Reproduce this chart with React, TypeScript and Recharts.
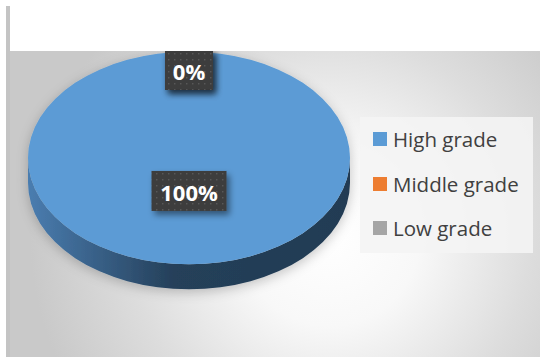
import React from 'react';
import { PieChart, Pie, Cell, Legend } from 'recharts';

const grades = ['High grade', 'Middle grade', 'Low grade'];
const shares = [100, 0, 0];
const gradeColors = ['#5b9bd5', '#ed7d31', '#a5a5a5'];

const data = grades.map((name, i) => ({ name, value: shares[i] }));

const TILT = 0.66; // vertical squash of the pie top
const DEPTH = 25; // thickness of the 3d side
const RAD = Math.PI / 180;
const FONT = '"Open Sans", "Noto Sans", sans-serif';

const pt = (cx: number, cy: number, rx: number, ry: number, deg: number) => [
  cx + rx * Math.cos(-deg * RAD),
  cy + ry * Math.sin(-deg * RAD),
];

// draws a slice as a tilted 3d ellipse sector
const Slice3D = (props: any) => {
  const { cx, cy, outerRadius, startAngle, endAngle, fill } = props;
  const rx = outerRadius;
  const ry = outerRadius * TILT;
  const hi = Math.max(startAngle, endAngle);
  const lo = Math.min(startAngle, endAngle);
  if (hi - lo < 0.01) return null;

  // front side bands: parts of the slice lying in the lower half
  const bands: string[] = [];
  for (let k = -2; k <= 1; k++) {
    const a = Math.max(lo, -180 + 360 * k);
    const b = Math.min(hi, 360 * k);
    if (b - a > 0.01) {
      const [ax, ay] = pt(cx, cy, rx, ry, a);
      const [bx, by] = pt(cx, cy, rx, ry, b);
      bands.push(
        `M${ax},${ay} A${rx},${ry} 0 0 0 ${bx},${by} L${bx},${by + DEPTH} A${rx},${ry} 0 0 1 ${ax},${ay + DEPTH} Z`
      );
    }
  }

  let top: React.ReactNode;
  if (hi - lo >= 359.99) {
    top = <ellipse cx={cx} cy={cy} rx={rx} ry={ry} fill={fill} />;
  } else {
    const [sx, sy] = pt(cx, cy, rx, ry, startAngle);
    const [ex, ey] = pt(cx, cy, rx, ry, endAngle);
    const large = hi - lo > 180 ? 1 : 0;
    const sweep = startAngle > endAngle ? 1 : 0;
    top = <path d={`M${cx},${cy} L${sx},${sy} A${rx},${ry} 0 ${large} ${sweep} ${ex},${ey} Z`} fill={fill} />;
  }

  return (
    <g filter="url(#pieShadow)">
      {bands.map((d, i) => (
        <path key={i} d={d} fill="url(#sideGrad)" />
      ))}
      {top}
    </g>
  );
};

const renderLabel = (p: any) => {
  const { cx, cy, midAngle, outerRadius, percent } = p;
  const k = percent > 0.5 ? 0.31 : 0.83;
  const x = cx + outerRadius * k * Math.cos(-midAngle * RAD);
  const y = cy + outerRadius * TILT * k * Math.sin(-midAngle * RAD);
  const text = `${Math.round(percent * 100)}%`;
  const w = text.length * 13.5 + 21;
  const h = 40;
  return (
    <g>
      <rect x={x - w / 2} y={y - h / 2} width={w} height={h} fill="url(#dots)" filter="url(#boxShadow)" />
      <text
        x={x}
        y={y + 1}
        textAnchor="middle"
        dominantBaseline="central"
        fill="#ffffff"
        fontFamily={FONT}
        fontWeight={700}
        fontSize={22}
      >
        {text}
      </text>
    </g>
  );
};

const renderLegend = (props: any) => {
  const items = [...(props.payload ?? [])].sort(
    (a: any, b: any) => grades.indexOf(a.value) - grades.indexOf(b.value)
  );
  return (
    <div
      style={{
        background: 'rgba(244,244,244,0.9)',
        width: 173,
        height: 136,
        fontFamily: FONT,
      }}
    >
      {items.map((e: any, i: number) => {
        const idx = grades.indexOf(e.value);
        return (
          <div key={i} style={{ display: 'flex', alignItems: 'center', height: 44.5, paddingLeft: 13 }}>
            <span
              style={{
                display: 'inline-block',
                width: 14,
                height: 14,
                marginRight: 6,
                background: gradeColors[idx >= 0 ? idx : i],
              }}
            />
            <span style={{ fontSize: 20.5, color: '#404040' }}>{e.value}</span>
          </div>
        );
      })}
    </div>
  );
};

export default function App() {
  return (
    <div style={{ position: 'absolute', left: 0, top: 0, width: 540, height: 357, background: '#ffffff' }}>
      <div style={{ position: 'absolute', left: 6, top: 6, width: 4, height: 351, background: '#c4c4c4' }} />
      <div
        style={{
          position: 'absolute',
          left: 10,
          top: 51,
          width: 530,
          height: 306,
          overflow: 'hidden',
          background:
            'radial-gradient(circle at 320px 185px, #ffffff 0px, #f8f8f8 90px, #dddddd 200px, #c9c9c9 300px)',
        }}
      >
        <PieChart width={530} height={306} margin={{ top: 0, right: 0, bottom: 0, left: 0 }}>
          <defs>
            <linearGradient id="sideGrad" x1="0" y1="0" x2="1" y2="0">
              <stop offset="0%" stopColor="#4a7db0" />
              <stop offset="45%" stopColor="#25405a" />
              <stop offset="100%" stopColor="#223b53" />
            </linearGradient>
            <pattern id="dots" width="6" height="6" patternUnits="userSpaceOnUse">
              <rect width="6" height="6" fill="#3c3c3c" />
              <rect x="2" y="2" width="1.5" height="1.5" fill="#585858" />
            </pattern>
            <filter id="pieShadow" x="-20%" y="-20%" width="140%" height="140%">
              <feDropShadow dx="0" dy="3" stdDeviation="6" floodColor="#000000" floodOpacity="0.22" />
            </filter>
            <filter id="boxShadow" x="-30%" y="-30%" width="160%" height="160%">
              <feDropShadow dx="3" dy="4" stdDeviation="3" floodColor="#000000" floodOpacity="0.45" />
            </filter>
          </defs>
          <Pie
            data={data}
            dataKey="value"
            nameKey="name"
            cx={179}
            cy={107}
            outerRadius={161}
            startAngle={90}
            endAngle={-270}
            stroke="none"
            labelLine={false}
            label={renderLabel}
            shape={Slice3D}
            isAnimationActive={false}
          >
            {data.map((d, i) => (
              <Cell key={d.name} fill={gradeColors[i]} />
            ))}
          </Pie>
          <Legend
            layout="vertical"
            align="right"
            verticalAlign="top"
            content={renderLegend}
            wrapperStyle={{ left: 350, top: 66, width: 173, height: 136 }}
          />
        </PieChart>
      </div>
    </div>
  );
}
